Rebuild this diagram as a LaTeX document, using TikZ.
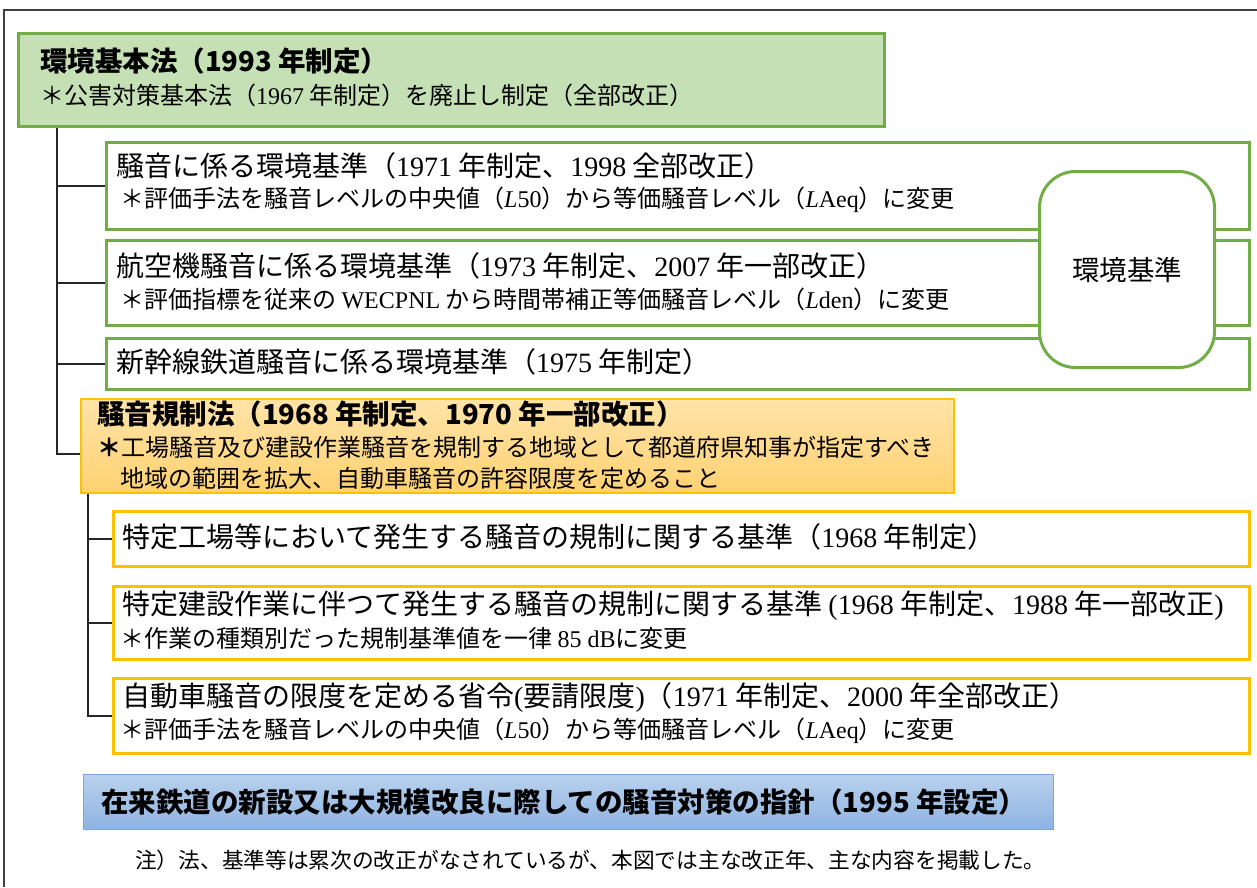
\documentclass[tikz,border=0pt]{standalone}
\usepackage{fontspec}
\setmainfont{Noto Sans CJK JP}
\newfontfamily\ser{Liberation Serif}
\newcommand\R[1]{{\ser #1}}
\newcommand\Li{{\ser\itshape L}}
\definecolor{gline}{HTML}{70AD47}
\definecolor{gfill}{HTML}{C5E0B4}
\definecolor{oline}{HTML}{FFC000}
\definecolor{otop}{HTML}{FFE3A8}
\definecolor{obot}{HTML}{FFD272}
\definecolor{btop}{HTML}{B9D1ED}
\definecolor{bbot}{HTML}{8DB3E2}
\definecolor{bline}{HTML}{7BA5DC}
\definecolor{framec}{HTML}{404040}
\tikzset{
  boxg/.style={draw=gline, line width=3pt, rectangle, inner sep=0pt, anchor=north west},
  boxo/.style={draw=oline, line width=3pt, rectangle, inner sep=0pt, anchor=north west},
  maintxt/.style={font=\fontsize{28}{30}\selectfont, anchor=west, inner sep=0pt},
  subtxt/.style={font=\fontsize{24}{26}\selectfont, anchor=west, inner sep=0pt},
  boldtxt/.style={font=\fontsize{27.5}{30}\selectfont\bfseries, anchor=west, inner sep=0pt},
  tree/.style={draw=black!85, line width=1.5pt},
}
\begin{document}
\begin{tikzpicture}[x=1pt,y=-1pt]
\useasboundingbox (0,0) rectangle (1257,887);
% outer frame
\draw[framec, line width=1.5pt] (4,887) -- (4,10) -- (1257,10);

% top green box
\node[boxg, fill=gfill, minimum width=866pt, minimum height=93pt] (law1) at (17,32) {};
\node[boldtxt] (law1t) at (40,61) {環境基本法（1993 年制定）};
\node[subtxt] (law1s) at (40,95) {＊公害対策基本法（\R{1967} 年制定）を廃止し制定（全部改正）};

% environmental standards boxes
\node[boxg, minimum width=1143pt, minimum height=87pt] (b2) at (105,141) {};
\node[maintxt] (b2t) at (116,166) {騒音に係る環境基準（\R{1971} 年制定、\R{1998} 全部改正）};
\node[subtxt] (b2s) at (120,200) {＊評価手法を騒音レベルの中央値（\Li\R{50}）から等価騒音レベル（\Li\R{Aeq}）に変更};

\node[boxg, minimum width=1143pt, minimum height=85pt] (b3) at (105,239) {};
\node[maintxt] (b3t) at (116,266) {航空機騒音に係る環境基準（\R{1973} 年制定、\R{2007} 年一部改正）};
\node[subtxt] (b3s) at (120,299) {＊評価指標を従来の \R{WECPNL} から時間帯補正等価騒音レベル（\Li\R{den}）に変更};

\node[boxg, minimum width=1143pt, minimum height=51pt] (b4) at (105,337) {};
\node[maintxt] (b4t) at (116,362) {新幹線鉄道騒音に係る環境基準（\R{1975} 年制定）};

\node[draw=gline, line width=3pt, fill=white, rounded corners=36pt, minimum width=175pt, minimum height=196pt, inner sep=0pt, anchor=north west] (env) at (1038,170) {};
\node[font=\fontsize{27.5}{30}\selectfont, inner sep=0pt] (envt) at (env.center) {環境基準};

% noise regulation law
\node[draw=oline, line width=1.5pt, top color=otop, bottom color=obot, rectangle, inner sep=0pt, anchor=north west, minimum width=873pt, minimum height=94pt] (law2) at (80,398) {};
\node[boldtxt] (law2t) at (97,414) {騒音規制法（1968 年制定、1970 年一部改正）};
\node[subtxt] (law2s1) at (97,447) {{\bfseries ＊}工場騒音及び建設作業騒音を規制する地域として都道府県知事が指定すべき};
\node[subtxt] (law2s2) at (120,478) {地域の範囲を拡大、自動車騒音の許容限度を定めること};

\node[boxo, minimum width=1136pt, minimum height=55pt] (b5) at (112,510) {};
\node[maintxt] (b5t) at (122,537) {特定工場等において発生する騒音の規制に関する基準（\R{1968} 年制定）};

\node[boxo, minimum width=1136pt, minimum height=73pt] (b6) at (112,585) {};
\node[maintxt] (b6t) at (122,606) {特定建設作業に伴つて発生する騒音の規制に関する基準 \R{(1968} 年制定、\R{1988} 年一部改正\R{)}};
\node[subtxt] (b6s) at (120,638) {＊作業の種類別だった規制基準値を一律 \R{85 dB}に変更};

\node[boxo, minimum width=1136pt, minimum height=75pt] (b7) at (112,677) {};
\node[maintxt] (b7t) at (122,697) {自動車騒音の限度を定める省令\R{(}要請限度\R{)}（\R{1971} 年制定、\R{2000} 年全部改正）};
\node[subtxt] (b7s) at (120,731) {＊評価手法を騒音レベルの中央値（\Li\R{50}）から等価騒音レベル（\Li\R{Aeq}）に変更};

% railway guideline
\node[draw=bline, line width=1.2pt, top color=btop, bottom color=bbot, rectangle, inner sep=0pt, anchor=north west, minimum width=970pt, minimum height=55pt] (rail) at (83,774) {};
\node[boldtxt, font=\fontsize{27.5}{30}\selectfont\bfseries] (railt) at (101,802) {在来鉄道の新設又は大規模改良に際しての騒音対策の指針（1995 年設定）};

% note
\node[anchor=west, inner sep=0pt, font=\fontsize{21.7}{24}\selectfont] (note) at (135,860) {注）法、基準等は累次の改正がなされているが、本図では主な改正年、主な内容を掲載した。};

% tree connectors
\coordinate (t1) at (law1.south west -| 57,0);
\draw[tree] (t1) |- (b2.west);
\draw[tree] (t1) |- (b3.west);
\draw[tree] (t1) |- (b4.west);
\draw[tree] (t1) |- ([yshift=-8pt]law2.west);
\coordinate (t2) at (law2.south west -| 88,0);
\draw[tree] (t2) |- (b5.west);
\draw[tree] (t2) |- (b6.west);
\draw[tree] (t2) |- (b7.west);
\end{tikzpicture}
\end{document}
